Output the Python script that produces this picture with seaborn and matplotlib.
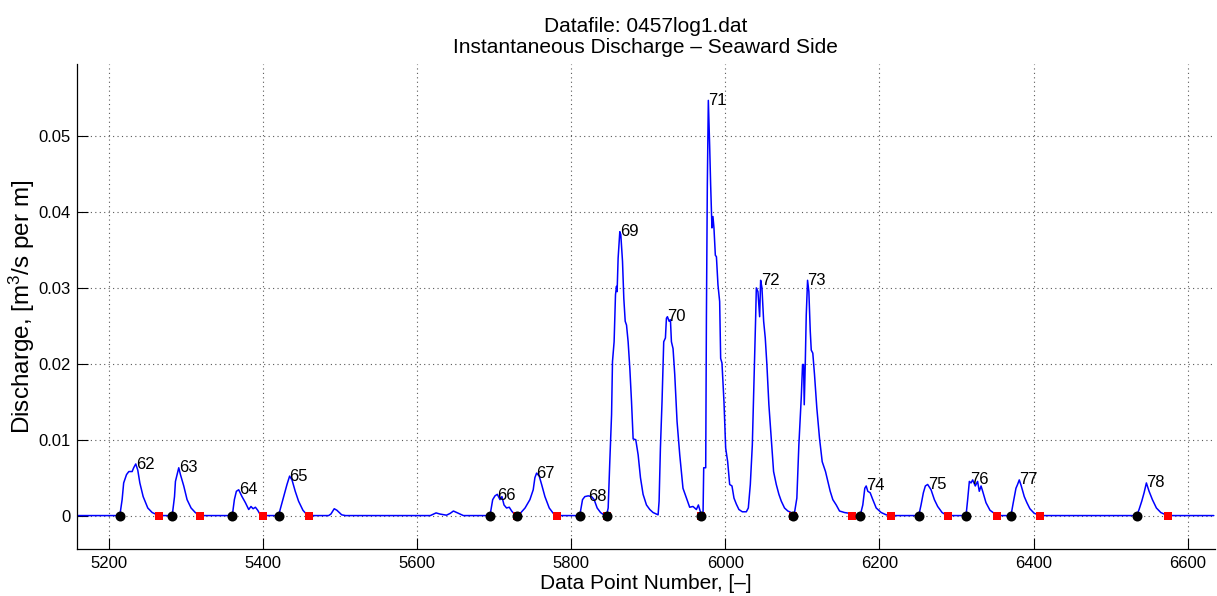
import matplotlib
matplotlib.use("Agg")
import matplotlib.pyplot as plt
import seaborn as sns
import numpy as np

# ---- data ----
point_number = [
    5158, 5214, 5217, 5219, 5222.7, 5225.7, 5230, 5232, 5234.7, 5237.3, 5240, 5244.3, 5250.3, 5256, 5262.5, 5265,
    5282, 5285, 5286.2, 5288.4, 5290.5, 5292.7, 5297, 5301.3, 5306.5, 5312, 5318,
    5360, 5362.7, 5365.3, 5368.3, 5372.6, 5377, 5381.3, 5384.3, 5387, 5390, 5393, 5396.4, 5400,
    5420, 5424.5, 5427.5, 5431, 5434.4, 5437.5, 5441.7, 5446, 5451.7, 5457, 5460,
    5485, 5488, 5492.3, 5495.8, 5502, 5507,
    5617, 5624.5, 5629.7, 5638, 5643, 5647, 5653.4, 5660,
    5694.5, 5698, 5701, 5704, 5707.5, 5710, 5712.7, 5716, 5719.5, 5722.6, 5727, 5729,
    5734.3, 5740, 5746.3, 5750.6, 5752.8, 5755, 5758.4, 5761.5, 5765.8, 5771.4, 5776.6, 5782,
    5811, 5814.6, 5817.6, 5822, 5826.3, 5829.7, 5833.6, 5838, 5842.3, 5845.7,
    5847.9, 5850, 5852.3, 5853.5, 5855.6, 5857.4, 5858.7, 5859.5, 5860.8, 5863, 5864.3, 5866.5, 5868.2,
    5870, 5871.7, 5873.8, 5876, 5878.2, 5880.3, 5883.7, 5886.8, 5889.8, 5893.2, 5897.6, 5901.9, 5906.2, 5912.7,
    5914, 5915.7, 5917.8, 5920, 5922.2, 5923.5, 5924.8, 5927, 5928.7, 5930, 5932.1, 5934.3, 5937.3, 5940.8,
    5945, 5949.5, 5953.7, 5958, 5962.4, 5965, 5966.7, 5969,
    5971, 5971.9, 5974.5, 5975.4, 5976.6, 5977.9, 5979.6, 5980.9, 5982.6, 5983.9, 5985.2, 5987, 5988.4,
    5990.4, 5992.6, 5993.9, 5995.6, 5998.2, 6000.4, 6003, 6005.6, 6008.6, 6011.2, 6014.3, 6017.6, 6022,
    6027.2, 6029.8, 6032.4, 6035, 6037.1, 6039.3, 6040.2, 6042.3, 6044.5, 6045.8, 6047.5, 6049.7, 6051.8,
    6053.9, 6056.5, 6059.6, 6062.6, 6066.1, 6069.5, 6072.6, 6076.8, 6081.1, 6085.5, 6087.6,
    6089.8, 6092.8, 6095.4, 6098.5, 6100.2, 6101.5, 6102.4, 6103.7, 6105, 6106.7, 6108.4, 6110.2, 6111.5,
    6113.5, 6115.7, 6118.7, 6122.2, 6125.7, 6130, 6133, 6136.1, 6139.5, 6143.9, 6148.2, 6154.7, 6161, 6164.6,
    6175, 6178.4, 6181, 6182.8, 6184.9, 6188, 6191.4, 6195.8, 6202.3, 6208.8, 6214.5,
    6251, 6254, 6257, 6259.6, 6262.6, 6267, 6271.3, 6275.6, 6281.3, 6286.4, 6289.5,
    6312.4, 6314.5, 6316.7, 6318.9, 6321, 6324.4, 6327.4, 6329.6, 6331.9, 6334, 6338.3, 6343.5, 6349, 6353,
    6370.7, 6373.7, 6377.2, 6379.3, 6381.5, 6384.1, 6388, 6391.4, 6395.3, 6400.9, 6409,
    6534, 6537, 6540.5, 6543.5, 6546.5, 6550, 6554.3, 6559.5, 6565.2, 6571.6, 6574, 6634,
]
discharge = [
    0, 0, .0021, .0043, .0054, .0058, .0058, .0063, .0068, .0060, .0043, .0025, .0010, .0004, .0001, 0,
    0, .0025, .0045, .0054, .0063, .0054, .0039, .0021, .0010, .0004, 0,
    0, .0021, .0032, .0034, .0025, .0017, .0008, .0012, .0009, .0011, .0007, .0001, 0,
    0, .0017, .0028, .0041, .0052, .0047, .0032, .0019, .0007, .0001, 0,
    0, .0002, .0009, .0007, .0001, 0,
    0, .00035, .0002, .00005, .0003, .0006, .0003, 0,
    0, .0021, .0026, .0028, .0021, .0025, .0014, .0010, .0011, .0006, .0001, 0,
    .00035, .0010, .0021, .0034, .0050, .0056, .0052, .0041, .0025, .0010, .0003, 0,
    0, .0021, .0025, .0026, .0025, .0021, .0010, .0004, .0001, 0,
    .0010, .0071, .0133, .0203, .0229, .0291, .0302, .0295, .0339, .0374, .0370, .0335, .0286,
    .0256, .0251, .0229, .0194, .0150, .0101, .0100, .0080, .0050, .0028, .0014, .0008, .0004, .0001,
    .0019, .0089, .0150, .0229, .0234, .0260, .0262, .0256, .0258, .0229, .0220, .0186, .0124, .0080,
    .0036, .0023, .0011, .0012, .0008, .0014, .0008, 0,
    0, .0063, .0063, .0260, .0436, .0547, .0488, .0436, .0379, .0394, .0379, .0343, .0341,
    .0304, .0282, .0207, .0201, .0150, .0089, .0071, .0041, .0039, .0023, .0015, .0008, .0005,
    .0005, .0010, .0041, .0093, .0172, .0260, .0300, .0295, .0262, .0310, .0300, .0256, .0234,
    .0199, .0146, .0102, .0058, .0041, .0028, .0019, .0010, .0006, .0004, 0,
    .0004, .0023, .0093, .0155, .0199, .0199, .0146, .0199, .0264, .0310, .0295, .0243, .0218,
    .0214, .0186, .0142, .0102, .0071, .0058, .0045, .0032, .0021, .0014, .0006, .0004, .0003, 0,
    0, .0014, .0036, .0039, .0032, .0030, .0021, .0010, .0004, .0001, 0,
    0, .0014, .0030, .0039, .0041, .0034, .0021, .0012, .0004, .0001, 0,
    0, .0021, .0045, .0043, .0047, .0039, .0045, .0032, .0039, .0032, .0017, .0007, .0003, 0,
    0, .0017, .0036, .0041, .0047, .0039, .0025, .0017, .0009, .0003, 0,
    0, .0008, .0019, .0030, .0043, .0032, .0021, .0010, .0004, .0001, 0, 0,
]

event_ids = ["62", "63", "64", "65", "66", "67", "68", "69", "70", "71", "72", "73", "74", "75", "76", "77", "78"]
peak_x = [5234.7, 5290.5, 5368.3, 5434.4, 5704, 5755, 5822, 5863, 5924.8, 5977.9, 6045.8, 6106.7,
          6182.8, 6262.6, 6318, 6381.5, 6546.5]
peak_y = [.0067, .0063, .0034, .0052, .0027, .0056, .0025, .0374, .0262, .0547, .0310, .0310,
          .0039, .0041, .0047, .0047, .0043]

start_points = [5214, 5282, 5360, 5420, 5694.5, 5729, 5811, 5846, 5969, 6087.6, 6175, 6251, 6312.4, 6370.7, 6534]
end_points = [5265, 5318, 5400.5, 5460, 5729, 5782, 5846, 5969, 6087.6, 6164.6, 6214.5, 6289.5, 6353, 6409, 6574]

x_ticks = [5200, 5400, 5600, 5800, 6000, 6200, 6400, 6600]
x_tick_labels = ["5200", "5400", "5600", "5800", "6000", "6200", "6400", "6600"]
y_ticks = [0, 0.01, 0.02, 0.03, 0.04, 0.05]
y_tick_labels = ["0", "0.01", "0.02", "0.03", "0.04", "0.05"]

# ---- styling ----
sns.set_style("ticks")
plt.rcParams["font.family"] = ["Liberation Sans", "DejaVu Sans"]
plt.rcParams["mathtext.default"] = "regular"
plt.rcParams["text.color"] = "black"
plt.rcParams["axes.labelcolor"] = "black"
plt.rcParams["xtick.color"] = "black"
plt.rcParams["ytick.color"] = "black"

fig = plt.figure(figsize=(12.17, 5.96), dpi=100)
ax = fig.add_axes([0.063, 0.0789, 0.935, 0.8138])

ax.set_axisbelow(True)
ax.grid(True, linestyle=(0, (1, 3)), color="0.35", linewidth=0.8)

sns.lineplot(x=point_number, y=discharge, sort=False, estimator=None, color="blue",
             linewidth=1.1, ax=ax, legend=False)

sns.scatterplot(x=end_points, y=[0] * len(end_points), marker="s", color="red",
                edgecolor="red", linewidth=0, s=36, ax=ax, legend=False, zorder=3)
sns.scatterplot(x=start_points, y=[0] * len(start_points), marker="o", color="black",
                edgecolor="black", linewidth=0, s=52, ax=ax, legend=False, zorder=4)

for lab, px, py in zip(event_ids, peak_x, peak_y):
    ax.text(px, py, lab, ha="left", va="center", fontsize=12, color="black", zorder=5)

ax.set_xlim(5158, 6635)
ax.set_ylim(-0.0044, 0.0595)
ax.set_xticks(x_ticks)
ax.set_xticklabels(x_tick_labels)
ax.set_yticks(y_ticks)
ax.set_yticklabels(y_tick_labels)
ax.tick_params(direction="in", length=8, width=0.8, labelsize=12, colors="black", pad=5)
ax.tick_params(axis="y", pad=4)

for side in ["top", "right"]:
    ax.spines[side].set_visible(False)
for side in ["left", "bottom"]:
    ax.spines[side].set_color("black")
    ax.spines[side].set_linewidth(0.9)

ax.set_xlabel("Data Point Number, [–]", fontsize=15, labelpad=2)
ax.set_ylabel("Discharge, [m$^3$/s per m]", fontsize=17.5, labelpad=1)
ax.set_title("Datafile: 0457log1.dat\nInstantaneous Discharge – Seaward Side", fontsize=15, pad=8,
             linespacing=1.1)

fig.savefig("out.png", dpi=100)
